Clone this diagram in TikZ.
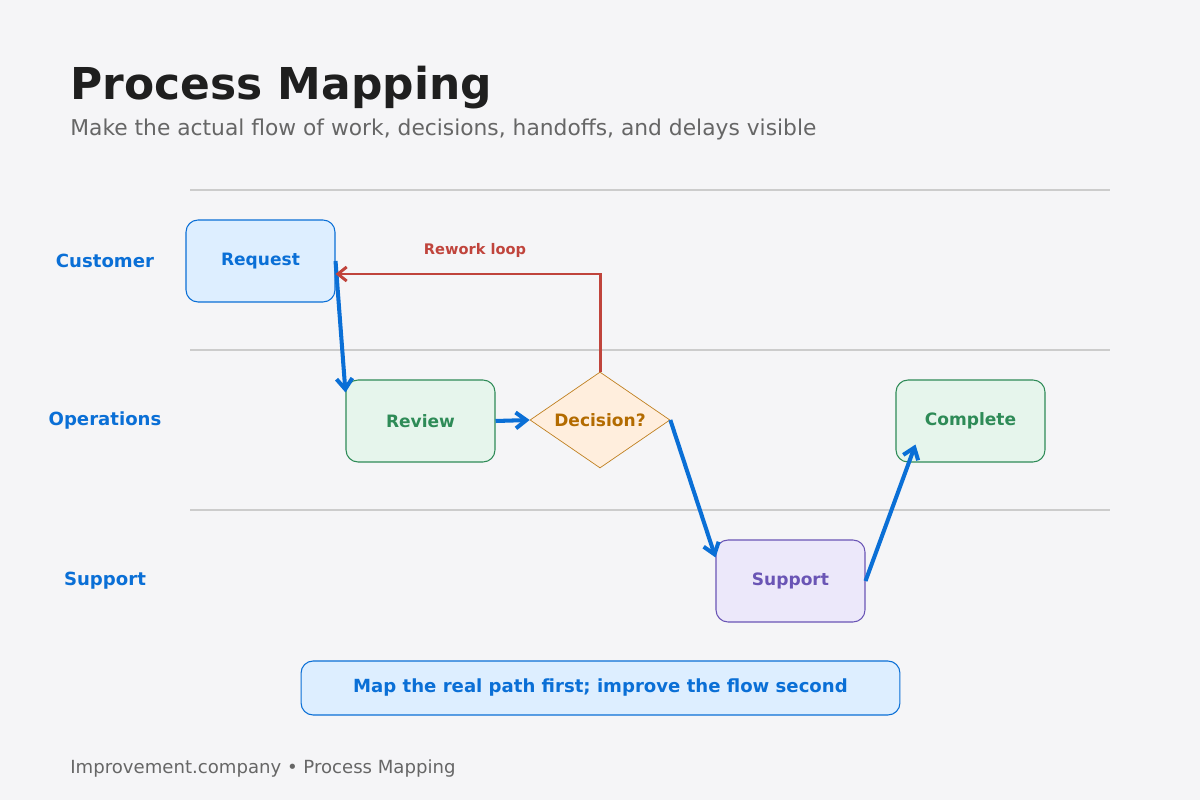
\documentclass[tikz,border=0pt]{standalone}
\usepackage{fontspec}
\setmainfont{DejaVu Sans}
\usetikzlibrary{shapes.geometric,arrows.meta,calc}
\definecolor{bgc}{HTML}{F5F5F7}
\definecolor{ink}{HTML}{1F1F1F}
\definecolor{mute}{HTML}{666666}
\definecolor{rule}{HTML}{CCCCCC}
\definecolor{blu}{HTML}{0A6FD6}
\definecolor{blufill}{HTML}{DDEEFF}
\definecolor{grn}{HTML}{2E8B57}
\definecolor{grnfill}{HTML}{E6F5EC}
\definecolor{org}{HTML}{C08020}
\definecolor{orgtxt}{HTML}{B36B00}
\definecolor{orgfill}{HTML}{FFEEDD}
\definecolor{pur}{HTML}{6A55B5}
\definecolor{purfill}{HTML}{ECE8FA}
\definecolor{redc}{HTML}{C0443C}
\tikzset{
  procbox/.style={draw,rounded corners=0.24cm,minimum width=2.98cm,minimum height=1.64cm,
    font=\fontsize{9.7}{11}\selectfont\bfseries,semithick},
  lane/.style={text=blu,font=\fontsize{10.3}{12}\selectfont\bfseries},
  flow/.style={draw=blu,line width=2.3pt,-{Straight Barb[length=6pt,width=9pt]}}
}
\begin{document}
\begin{tikzpicture}[x=0.02cm,y=-0.02cm]
  \fill[bgc] (0,0) rectangle (1200,800);
  \useasboundingbox (0,0) rectangle (1200,800);

  \node[anchor=base west,inner sep=0pt,text=ink,font=\fontsize{25}{28}\selectfont\bfseries] (title) at (70,100) {Process Mapping};
  \node[anchor=base west,inner sep=0pt,text=mute,font=\fontsize{12.4}{14}\selectfont] (sub) at (70,136) {Make the actual flow of work, decisions, handoffs, and delays visible};

  %lanes
  \foreach \y in {190,350,510} \draw[rule,semithick] (190,\y) -- (1110,\y);
  \node[lane] (lcust) at (105,261) {Customer};
  \node[lane] (lops) at (105,421) {Operations};
  \node[lane] (lsup) at (105,581) {Support};

  %steps
  \node[procbox,fill=blufill,draw=blu,text=blu] (request) at (260.5,261) {Request};
  \node[procbox,fill=grnfill,draw=grn,text=grn] (review) at (420.5,421) {Review};
  \node[draw=org,fill=orgfill,text=orgtxt,diamond,aspect=1.46,inner sep=0pt,minimum width=2.8cm,minimum height=1.92cm,
    font=\fontsize{9.7}{11}\selectfont\bfseries] (decision) at (600,420) {Decision?};
  \node[procbox,fill=grnfill,draw=grn,text=grn] (complete) at (970.5,421) {Complete};
  \node[procbox,fill=purfill,draw=pur,text=pur] (support) at (790.5,581) {Support};

  \path[flow] (request.east) -- ($(review.north west)+(0,13)$);
  \path[flow] (review.east) -- (decision.west);
  \path[flow] (decision.east) -- ($(support.north west)+(0,18)$);
  \path[flow] (support.east) -- ($(complete.south west)+(20,-18)$);

  %rework
  \coordinate (turn) at (600,274);
  \draw[redc,line width=1.7pt,-{Straight Barb[length=5pt,width=8pt]}] (decision.north) -- (turn) -- (request.east |- turn);
  \node[text=redc,font=\fontsize{8.3}{10}\selectfont\bfseries] (rework) at (475,250) {Rework loop};

  \node[draw=blu,fill=blufill,text=blu,rounded corners=0.24cm,minimum width=11.98cm,minimum height=1.08cm,semithick,
    font=\fontsize{10.3}{12}\selectfont\bfseries] (note) at (600.5,688) {Map the real path first; improve the flow second};

  \node[anchor=base west,inner sep=0pt,text=mute,font=\fontsize{10.3}{12}\selectfont] (foot) at (70,773) {Improvement.company • Process Mapping};
\end{tikzpicture}
\end{document}
